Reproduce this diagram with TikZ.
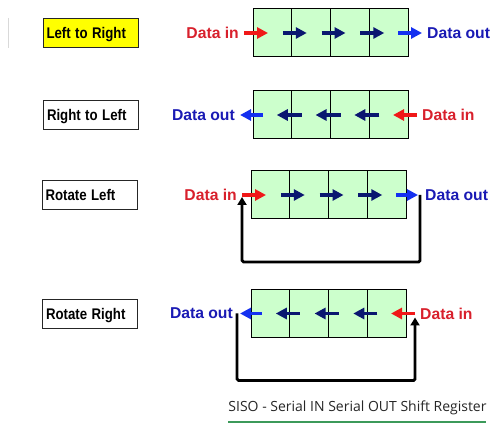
\documentclass[tikz,border=0pt]{standalone}
\usepackage{fontspec}
\setmainfont{Liberation Sans}
\newfontfamily\capfont{Open Sans}
\usetikzlibrary{arrows.meta, positioning, calc}
\definecolor{srFill}{HTML}{CCFFCC}
\definecolor{srRed}{HTML}{F01818}
\definecolor{srNavy}{HTML}{0A1670}
\definecolor{srBlue}{HTML}{1430F0}
\definecolor{srInText}{HTML}{D8202C}
\definecolor{srOutText}{HTML}{1A1AB4}
\definecolor{srYellow}{HTML}{FFFF00}
\definecolor{srGreen}{HTML}{3C9A5A}
\newcommand{\modetext}[1]{\scalebox{0.86}[1]{#1}}
\tikzset{
  cell/.style={draw=black, line width=1pt, fill=srFill, minimum width=38.75pt,
    minimum height=48pt, inner sep=0pt, outer sep=0pt},
  modebox/.style={draw=black!85, line width=0.9pt, minimum height=29pt, text width=88pt,
    inner sep=3.5pt, align=left, text depth=0pt, font=\fontsize{15.4}{17}\selectfont\bfseries},
  shifttip/.style={-{Triangle[length=11pt, width=11pt]}, line width=3.4pt},
  shiftarrow/.style={shifttip, srNavy},
  inarrow/.style={shifttip, srRed},
  outarrow/.style={shifttip, srBlue},
  feedback/.style={-{Triangle[length=8pt, width=9pt]}, line width=2.8pt, black, rounded corners=1.5pt},
  intext/.style={font=\fontsize{15.7}{18}\selectfont\bfseries, text=srInText, inner sep=1pt},
  outtext/.style={font=\fontsize{15.7}{18}\selectfont\bfseries, text=srOutText, inner sep=1pt}
}
\begin{document}
\begin{tikzpicture}[x=1pt, y=1pt, node distance=0pt]
  \useasboundingbox (0,0) rectangle (498,431);
  \draw[black!15, line width=0.8pt] (8,413) -- (8,383);

  % mode labels
  \node[modebox, fill=srYellow] (ltr) at (90.5,398) {\modetext{Left to Right}};
  \node[modebox] (rtl) at (91,316.5) {\modetext{Right to Left}};
  \node[modebox] (rotl) at (89.5,236) {\modetext{Rotate Left}};
  \node[modebox] (rotr) at (90,117.5) {\modetext{Rotate Right}};

  % registers
  \node[cell] (a1) at (272.4,398) {};
  \node[cell, right=of a1] (a2) {};
  \node[cell, right=of a2] (a3) {};
  \node[cell, right=of a3] (a4) {};
  \node[cell] (b1) at (272.4,316) {};
  \node[cell, right=of b1] (b2) {};
  \node[cell, right=of b2] (b3) {};
  \node[cell, right=of b3] (b4) {};
  \node[cell] (c1) at (270.4,236) {};
  \node[cell, right=of c1] (c2) {};
  \node[cell, right=of c2] (c3) {};
  \node[cell, right=of c3] (c4) {};
  \node[cell] (d1) at (270.4,117.5) {};
  \node[cell, right=of d1] (d2) {};
  \node[cell, right=of d2] (d3) {};
  \node[cell, right=of d3] (d4) {};

  % left to right
  \coordinate (ainL) at ([xshift=-9pt]a1.west);
  \coordinate (aoutR) at ([xshift=14pt]a4.east);
  \draw[inarrow] (ainL) -- ([xshift=15pt]a1.west);
  \foreach \c in {a1,a2,a3}
    \draw[shiftarrow] ([xshift=-9pt]\c.east) -- ([xshift=15pt]\c.east);
  \draw[outarrow] ([xshift=-10pt]a4.east) -- (aoutR);
  \node[intext, left=4pt of ainL] (ain) {Data in};
  \node[outtext, right=4pt of aoutR] (aout) {Data out};

  % right to left
  \coordinate (binR) at ([xshift=9pt]b4.east);
  \coordinate (boutL) at ([xshift=-13pt]b1.west);
  \draw[inarrow] (binR) -- ([xshift=-15pt]b4.east);
  \foreach \c in {b2,b3,b4}
    \draw[shiftarrow] ([xshift=10pt]\c.west) -- ([xshift=-15pt]\c.west);
  \draw[outarrow] ([xshift=10pt]b1.west) -- (boutL);
  \node[intext, right=4pt of binR] (bin) {Data in};
  \node[outtext, left=4pt of boutL] (bout) {Data out};

  % rotate left
  \coordinate (cinL) at ([xshift=-9pt]c1.west);
  \coordinate (coutR) at ([xshift=12pt]c4.east);
  \draw[inarrow] (cinL) -- ([xshift=15pt]c1.west);
  \foreach \c in {c1,c2,c3}
    \draw[shiftarrow] ([xshift=-9pt]\c.east) -- ([xshift=15pt]\c.east);
  \draw[outarrow] ([xshift=-10pt]c4.east) -- (coutR);
  \node[intext, left=4pt of cinL] (cin) {Data in};
  \node[outtext, right=6pt of coutR] (cout) {Data out};
  \draw[feedback] ([xshift=2pt]coutR) -- ([xshift=2pt, yshift=-67pt]coutR) -| ([yshift=-2pt]cinL);

  % rotate right
  \coordinate (dinR) at ([xshift=9pt]d4.east);
  \coordinate (doutL) at ([xshift=-11pt]d1.west);
  \draw[inarrow] (dinR) -- ([xshift=-15pt]d4.east);
  \foreach \c in {d2,d3,d4}
    \draw[shiftarrow] ([xshift=10pt]\c.west) -- ([xshift=-14pt]\c.west);
  \draw[outarrow] ([xshift=11pt]d1.west) -- (doutL);
  \node[intext, right=4pt of dinR] (din) {Data in};
  \node[outtext, left=6pt of doutL] (dout) {Data out};
  \draw[feedback] ([xshift=-3pt]doutL) -- ([xshift=-3pt, yshift=-67pt]doutL) -| ([yshift=-4pt]dinR);

  % caption
  \node[font=\capfont\fontsize{14}{16}\selectfont, text=black!85, inner sep=1pt] (cap) at (357.5,23) {SISO - Serial IN Serial OUT Shift Register};
  \draw[srGreen, line width=2.4pt] (228,9) -- (486,9);
\end{tikzpicture}
\end{document}
